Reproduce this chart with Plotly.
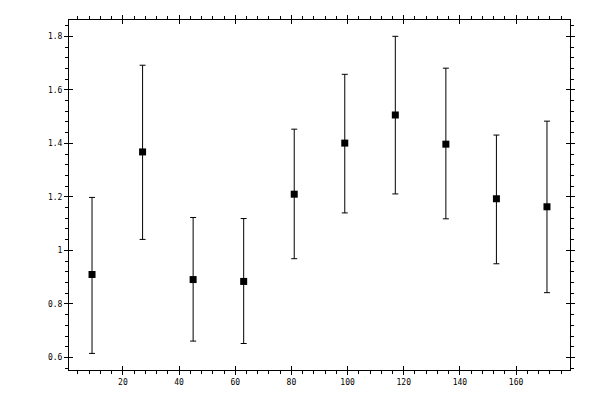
import plotly.graph_objects as go

x_vals = [9, 27, 45, 63, 81, 99, 117, 135, 153, 171]
y_vals = [0.910, 1.368, 0.891, 0.884, 1.210, 1.401, 1.506, 1.397, 1.193, 1.163]
y_upper = [1.198, 1.692, 1.123, 1.119, 1.453, 1.658, 1.800, 1.681, 1.431, 1.483]
y_lower = [0.615, 1.041, 0.661, 0.652, 0.969, 1.140, 1.211, 1.118, 0.950, 0.842]

err_plus = [u - v for u, v in zip(y_upper, y_vals)]
err_minus = [v - l for v, l in zip(y_vals, y_lower)]

x_range = [0.8, 179.2]
y_range = [0.553, 1.861]
font = dict(family="DejaVu Sans Mono", size=8, color="black")

fig = go.Figure()
fig.add_trace(go.Scatter(
    x=x_vals, y=y_vals, mode="markers",
    marker=dict(symbol="square", size=7, color="black"),
    error_y=dict(type="data", symmetric=False, array=err_plus, arrayminus=err_minus,
                 color="black", thickness=1, width=3),
    showlegend=False, cliponaxis=False,
))
fig.add_trace(go.Scatter(x=[None], y=[None], xaxis="x2", yaxis="y2", showlegend=False))

common = dict(showgrid=False, zeroline=False, linecolor="black", linewidth=1,
              mirror="ticks", ticks="outside", tickcolor="black", tickwidth=1,
              ticklen=4, tickfont=font)

fig.update_layout(
    width=592, height=392,
    margin=dict(l=61, r=30, t=7, b=30),
    paper_bgcolor="white", plot_bgcolor="white",
    xaxis=dict(range=x_range, tickmode="array", tickvals=[20, 40, 60, 80, 100, 120, 140, 160],
               ticktext=["20", "40", "60", "80", "100", "120", "140", "160"],
               minor=dict(ticks="outside", dtick=4, tick0=0, ticklen=3, tickcolor="black"),
               **common),
    yaxis=dict(range=y_range, tickmode="array", tickvals=[0.6, 0.8, 1.0, 1.2, 1.4, 1.6, 1.8],
               ticktext=["0.6", "0.8", "1", "1.2", "1.4", "1.6", "1.8"],
               minor=dict(ticks="outside", dtick=0.04, tick0=0, ticklen=3, tickcolor="black"),
               **common),
    xaxis2=dict(range=x_range, overlaying="x", tickmode="array",
                tickvals=[20, 40, 60, 80, 100, 120, 140, 160], showticklabels=False,
                ticks="inside", ticklen=4, tickcolor="black", mirror="ticks",
                showgrid=False, zeroline=False, showline=False),
    yaxis2=dict(range=y_range, overlaying="y", tickmode="array",
                tickvals=[0.6, 0.8, 1.0, 1.2, 1.4, 1.6, 1.8], showticklabels=False,
                ticks="inside", ticklen=4, tickcolor="black", mirror="ticks",
                showgrid=False, zeroline=False, showline=False),
)

fig.write_html("out.html")
